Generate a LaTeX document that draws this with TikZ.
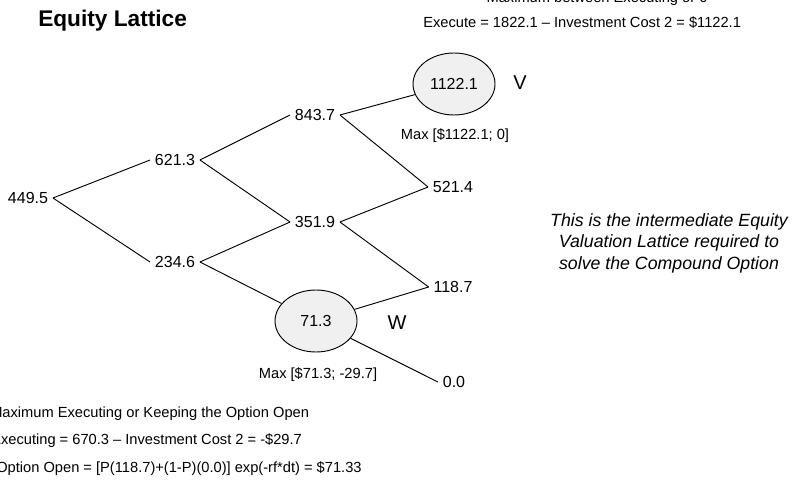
\documentclass[tikz,border=0pt]{standalone}
\usepackage{fontspec}
\setmainfont{Liberation Sans}
\usetikzlibrary{shapes.geometric}
\definecolor{latticeink}{HTML}{000000}
\definecolor{latticefill}{HTML}{F0F0F0}

\begin{document}
\begin{tikzpicture}[
  x=0.75pt,
  y=-0.75pt,
  every node/.style={latticeink},
  value/.style={font=\fontsize{12}{14}\selectfont, inner sep=3.5pt},
  payoff/.style={ellipse, draw=latticeink, fill=latticefill, line width=0.7pt,
                 minimum width=61.5pt, minimum height=46.5pt, inner sep=0pt,
                 font=\fontsize{12}{14}\selectfont},
  branch/.style={latticeink, line width=0.7pt},
  note/.style={font=\fontsize{11}{13}\selectfont, inner sep=0pt},
  tag/.style={font=\fontsize{15}{18}\selectfont, inner sep=0pt}
]
  % ---- page frame, 795 x 484 ----
  \clip (0,0) rectangle (795,484);

  % ---- title ----
  \node[anchor=base west, inner sep=0pt, font=\fontsize{17}{20}\bfseries]
    (title) at (38,27) {Equity Lattice};

  % ---- lattice values ----
  \node[value] (s0)   at (28,198)  {449.5};
  \node[value] (su)   at (175,160) {621.3};
  \node[value] (sd)   at (175,262) {234.6};
  \node[value] (suu)  at (315,115) {843.7};
  \node[value] (sud)  at (315,222) {351.9};
  \node[payoff] (sdd) at (316,321) {71.3};
  \node[payoff] (suuu) at (454,84) {1122.1};
  \node[value] (suud) at (453,187) {521.4};
  \node[value] (sudd) at (453,287) {118.7};
  \node[value] (sddd) at (454,382) {0.0};

  % ---- branches ----
  \draw[branch] (s0.east)  -- (su.west);
  \draw[branch] (s0.east)  -- (sd.west);
  \draw[branch] (su.east)  -- (suu.west);
  \draw[branch] (su.east)  -- (sud.west);
  \draw[branch] (sd.east)  -- (sud.west);
  \draw[branch] (sd.east)  -- (sdd);
  \draw[branch] (suu.east) -- (suuu);
  \draw[branch] (suu.east) -- (suud.west);
  \draw[branch] (sud.east) -- (suud.west);
  \draw[branch] (sud.east) -- (sudd.west);
  \draw[branch] (sdd)      -- (sudd.west);
  \draw[branch] (sdd)      -- (sddd.west);

  % ---- node tags and max labels ----
  \node[tag] (tagv) at (520,83)  {V};
  \node[tag] (tagw) at (397,323) {W};
  \node[note, anchor=base] (maxv) at (455,140) {Max [\$1122.1; 0]};
  \node[note, anchor=base] (maxw) at (318,378.5) {Max [\$71.3; -29.7]};

  % ---- notes at the top ----
  \node[note, anchor=base] (topa) at (597,3) {Maximum between Executing or 0};
  \node[note, anchor=base west] (topb) at (423,28)
    {Execute = 1822.1 -- Investment Cost 2 = \$1122.1};

  % ---- notes at the bottom ----
  \node[note, anchor=base west] (bota) at (-10,417.5)
    {Maximum Executing or Keeping the Option Open};
  \node[note, anchor=base west] (botb) at (-9,444.5)
    {Executing = 670.3 -- Investment Cost 2 = -\$29.7};
  \node[note, anchor=base west] (botc) at (-4,472.5)
    {Option Open = [P(118.7)+(1-P)(0.0)] exp(-rf*dt) = \$71.33};

  % ---- side remark ----
  \node[align=center, inner sep=0pt, font=\fontsize{13.3}{16.1}\itshape]
    (remark) at (669,243)
    {This is the intermediate Equity\\Valuation Lattice required to\\solve the Compound Option};
\end{tikzpicture}
\end{document}
